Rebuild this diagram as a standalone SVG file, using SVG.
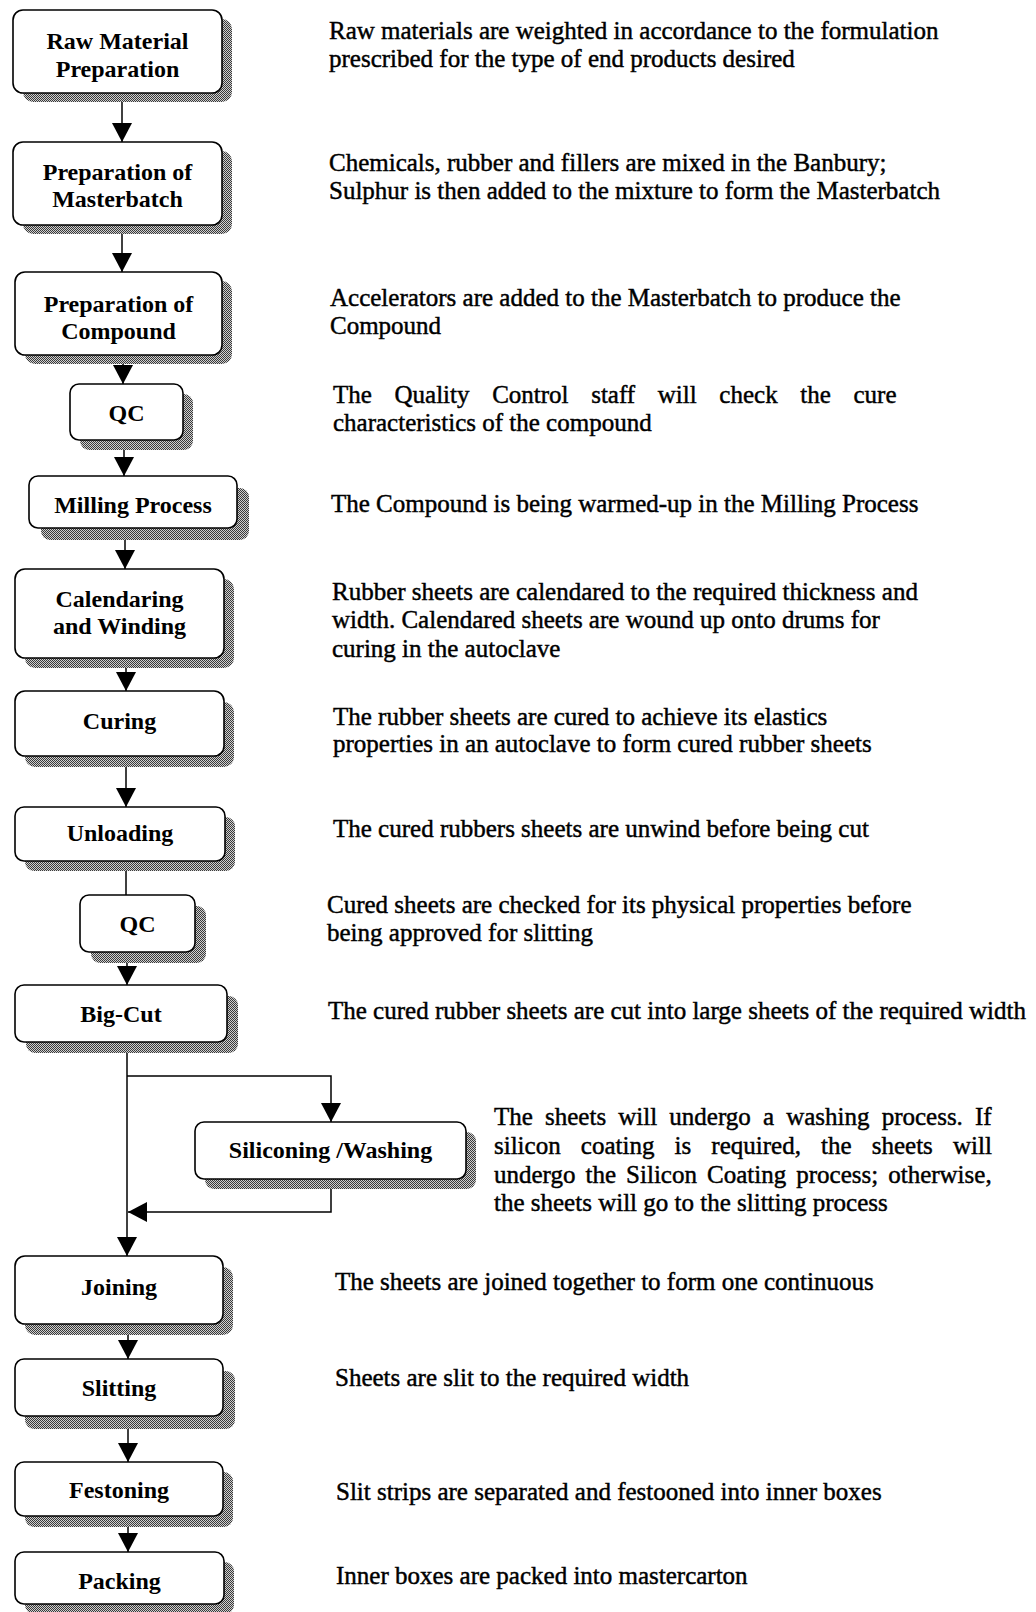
<svg xmlns="http://www.w3.org/2000/svg" width="1036" height="1612" viewBox="0 0 1036 1612">
  <style>
    .box { fill: #fff; stroke: #000; stroke-width: 1.6; }
    .shadow { fill: url(#dots); }
    .lbl { font-family: "Liberation Serif", "Times New Roman", serif; font-size: 24px; font-weight: bold; text-anchor: middle; fill: #000; }
    .note { font-family: "Liberation Serif", "Times New Roman", serif; font-size: 25px; fill: #000; stroke: #000; stroke-width: 0.45; }
    .wire { fill: none; stroke: #000; stroke-width: 1.5; }
  </style>
  <defs>
    <!-- halftone texture used for the drop shadows -->
    <pattern id="dots" width="2" height="2" patternUnits="userSpaceOnUse">
      <rect width="2" height="2" fill="#cfcfcf"/>
      <rect width="1" height="1" fill="#3a3a3a"/>
      <rect x="1" y="1" width="1" height="1" fill="#3a3a3a"/>
    </pattern>
    <marker id="arrow" viewBox="0 0 19 20" refX="19" refY="10" markerWidth="19" markerHeight="20" markerUnits="userSpaceOnUse" orient="auto">
      <path d="M0,0 L19,10 L0,20 Z" fill="#000"/>
    </marker>
  </defs>

  <rect width="1036" height="1612" fill="#fff"/>

  <!-- connectors -->
  <g id="connectors">
    <path class="wire" d="M122,93 V142" marker-end="url(#arrow)"/>
    <path class="wire" d="M122,225 V272" marker-end="url(#arrow)"/>
    <path class="wire" d="M123,355 V384" marker-end="url(#arrow)"/>
    <path class="wire" d="M124,440 V476" marker-end="url(#arrow)"/>
    <path class="wire" d="M125,528 V569" marker-end="url(#arrow)"/>
    <path class="wire" d="M126,658 V691" marker-end="url(#arrow)"/>
    <path class="wire" d="M126,756 V807" marker-end="url(#arrow)"/>
    <path class="wire" d="M126,861 V895"/>
    <path class="wire" d="M127,952 V985" marker-end="url(#arrow)"/>
    <path class="wire" d="M127,1042 V1256" marker-end="url(#arrow)"/>
    <path class="wire" d="M127,1076 H331 V1122" marker-end="url(#arrow)"/>
    <path class="wire" d="M331,1179 V1212 H128" marker-end="url(#arrow)"/>
    <path class="wire" d="M128,1324 V1359" marker-end="url(#arrow)"/>
    <path class="wire" d="M128,1416 V1462" marker-end="url(#arrow)"/>
    <path class="wire" d="M128,1516 V1552" marker-end="url(#arrow)"/>
  </g>

  <!-- process steps -->
  <g id="raw-material">
    <rect class="shadow" x="23" y="19" width="209" height="83" rx="10"/>
    <rect class="box" x="13" y="10" width="209" height="83" rx="10"/>
    <text class="lbl" x="117.5" y="49">Raw Material<tspan x="117.5" y="76.5">Preparation</tspan></text>
  </g>
  <g id="masterbatch">
    <rect class="shadow" x="23" y="151" width="209" height="83" rx="10"/>
    <rect class="box" x="13" y="142" width="209" height="83" rx="10"/>
    <text class="lbl" x="117.5" y="180">Preparation of<tspan x="117.5" y="207">Masterbatch</tspan></text>
  </g>
  <g id="compound">
    <rect class="shadow" x="25" y="281" width="207" height="83" rx="10"/>
    <rect class="box" x="15" y="272" width="207" height="83" rx="10"/>
    <text class="lbl" x="118.5" y="312">Preparation of<tspan x="118.5" y="339">Compound</tspan></text>
  </g>
  <g id="qc-compound">
    <rect class="shadow" x="80" y="394" width="113" height="56" rx="9"/>
    <rect class="box" x="70" y="384" width="113" height="56" rx="9"/>
    <text class="lbl" x="126.5" y="421">QC</text>
  </g>
  <g id="milling">
    <rect class="shadow" x="41" y="488" width="208" height="52" rx="9"/>
    <rect class="box" x="29" y="476" width="208" height="52" rx="9"/>
    <text class="lbl" x="133" y="513">Milling Process</text>
  </g>
  <g id="calendaring">
    <rect class="shadow" x="25" y="579" width="209" height="89" rx="10"/>
    <rect class="box" x="15" y="569" width="209" height="89" rx="10"/>
    <text class="lbl" x="119.5" y="607">Calendaring<tspan x="119.5" y="634">and Winding</tspan></text>
  </g>
  <g id="curing">
    <rect class="shadow" x="25" y="702" width="209" height="65" rx="10"/>
    <rect class="box" x="15" y="691" width="209" height="65" rx="10"/>
    <text class="lbl" x="119.5" y="729">Curing</text>
  </g>
  <g id="unloading">
    <rect class="shadow" x="25" y="817" width="210" height="54" rx="9"/>
    <rect class="box" x="15" y="807" width="210" height="54" rx="9"/>
    <text class="lbl" x="120" y="841">Unloading</text>
  </g>
  <g id="qc-cured">
    <rect class="shadow" x="91" y="906" width="115" height="57" rx="9"/>
    <rect class="box" x="80" y="895" width="115" height="57" rx="9"/>
    <text class="lbl" x="137.5" y="932">QC</text>
  </g>
  <g id="big-cut">
    <rect class="shadow" x="26" y="996" width="212" height="57" rx="9"/>
    <rect class="box" x="15" y="985" width="212" height="57" rx="9"/>
    <text class="lbl" x="121" y="1022">Big-Cut</text>
  </g>
  <g id="siliconing">
    <rect class="shadow" x="205" y="1132" width="271" height="57" rx="9"/>
    <rect class="box" x="195" y="1122" width="271" height="57" rx="9"/>
    <text class="lbl" x="330.5" y="1158">Siliconing /Washing</text>
  </g>
  <g id="joining">
    <rect class="shadow" x="25" y="1267" width="208" height="68" rx="10"/>
    <rect class="box" x="15" y="1256" width="208" height="68" rx="10"/>
    <text class="lbl" x="119" y="1295">Joining</text>
  </g>
  <g id="slitting">
    <rect class="shadow" x="25" y="1371" width="210" height="58" rx="9"/>
    <rect class="box" x="15" y="1359" width="208" height="57" rx="9"/>
    <text class="lbl" x="119" y="1396">Slitting</text>
  </g>
  <g id="festoning">
    <rect class="shadow" x="25" y="1472" width="208" height="55" rx="9"/>
    <rect class="box" x="15" y="1462" width="208" height="54" rx="9"/>
    <text class="lbl" x="119" y="1498">Festoning</text>
  </g>
  <g id="packing">
    <rect class="shadow" x="25" y="1562" width="209" height="52" rx="9"/>
    <rect class="box" x="15" y="1552" width="209" height="52" rx="9"/>
    <text class="lbl" x="119.5" y="1589">Packing</text>
  </g>

  <!-- step descriptions -->
  <g id="notes">
    <text id="note-raw" class="note" x="329" y="39">Raw materials are weighted in accordance to the formulation<tspan x="329" y="67">prescribed for the type of end products desired</tspan></text>
    <text id="note-masterbatch" class="note" x="329" y="171">Chemicals, rubber and fillers are mixed in the Banbury;<tspan x="329" y="199">Sulphur is then added to the mixture to form the Masterbatch</tspan></text>
    <text id="note-compound" class="note" x="330" y="306">Accelerators are added to the Masterbatch to produce the<tspan x="330" y="334">Compound</tspan></text>
    <text id="note-qc1" class="note" x="333" y="403"><tspan word-spacing="16.4">The Quality Control staff will check the cure</tspan><tspan x="333" y="431">characteristics of the compound</tspan></text>
    <text id="note-milling" class="note" x="331" y="512">The Compound is being warmed-up in the Milling Process</text>
    <text id="note-calendaring" class="note" x="332" y="600">Rubber sheets are calendared to the required thickness and<tspan x="332" y="628">width. Calendared sheets are wound up onto drums for</tspan><tspan x="332" y="657">curing in the autoclave</tspan></text>
    <text id="note-curing" class="note" x="333" y="725">The rubber sheets are cured to achieve its elastics<tspan x="333" y="752">properties in an autoclave to form cured rubber sheets</tspan></text>
    <text id="note-unloading" class="note" x="333" y="837">The cured rubbers sheets are unwind before being cut</text>
    <text id="note-qc2" class="note" x="327" y="913">Cured sheets are checked for its physical properties before<tspan x="327" y="941">being approved for slitting</tspan></text>
    <text id="note-bigcut" class="note" x="328" y="1019">The cured rubber sheets are cut into large sheets of the required width</text>
    <text id="note-siliconing" class="note" x="494" y="1125"><tspan word-spacing="5.9">The sheets will undergo a washing process. If</tspan><tspan x="494" y="1154" word-spacing="13.9">silicon coating is required, the sheets will</tspan><tspan x="494" y="1183" word-spacing="3.8">undergo the Silicon Coating process; otherwise,</tspan><tspan x="494" y="1211">the sheets will go to the slitting process</tspan></text>
    <text id="note-joining" class="note" x="335" y="1290">The sheets are joined together to form one continuous</text>
    <text id="note-slitting" class="note" x="335" y="1386">Sheets are slit to the required width</text>
    <text id="note-festoning" class="note" x="336" y="1500">Slit strips are separated and festooned into inner boxes</text>
    <text id="note-packing" class="note" x="336" y="1584">Inner boxes are packed into mastercarton</text>
  </g>
</svg>
